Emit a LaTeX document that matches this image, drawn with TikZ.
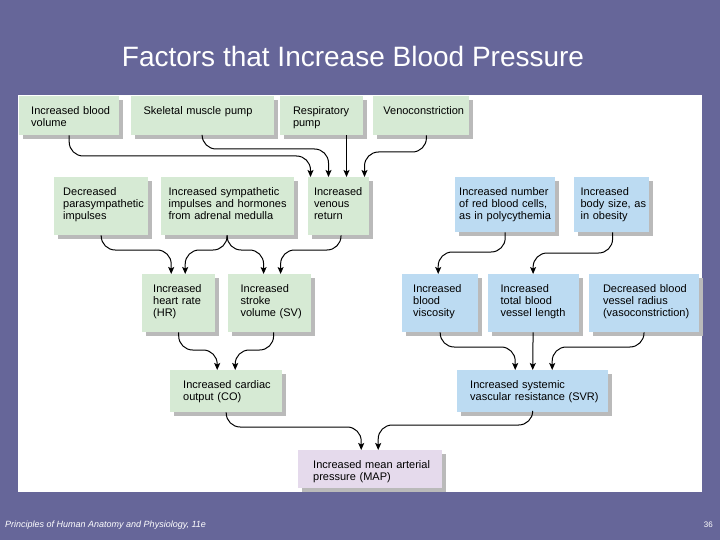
\documentclass[tikz,border=0pt]{standalone}
\usepackage{fontspec}
\setmainfont{Liberation Sans}
\usetikzlibrary{arrows.meta, positioning, shadows}
\definecolor{slidebg}{RGB}{102,102,153}
\definecolor{boxgreen}{RGB}{214,234,212}
\definecolor{boxblue}{RGB}{188,219,242}
\definecolor{boxpurple}{RGB}{229,218,236}

\begin{document}
\begin{tikzpicture}[
    x=1pt, y=-1pt,
    box/.style={rectangle, anchor=north west, inner sep=0pt, align=left, text height=18pt,
        font=\fontsize{11}{12}\selectfont,
        drop shadow={shadow xshift=4pt, shadow yshift=-4pt, fill=black!27, opacity=1}},
    sz/.style n args={3}{text width=#1, text depth=#2, execute at begin node={\leftskip=#3}},
    greenbox/.style={box, fill=boxgreen},
    bluebox/.style={box, fill=boxblue},
    purplebox/.style={box, fill=boxpurple},
    arr/.style={-{Stealth[length=7pt, width=6pt, inset=1.5pt]}, line width=1pt, rounded corners=14pt}
]
% slide background
\fill[slidebg] (0,0) rectangle (720,540);
\fill[white] (18,95) rectangle (702,492);

\node[font=\fontsize{28}{32}\selectfont, text=white, anchor=base] (title) at (353,67) {Factors that Increase Blood Pressure};

% top row
\node[greenbox, sz={100pt}{21pt}{12pt}] (bvol) at (19,96) {Increased blood\\volume};
\node[greenbox, sz={143pt}{21pt}{13pt}, right=11pt of bvol] (muscle) {Skeletal muscle pump};
\node[greenbox, sz={83pt}{21pt}{13pt}, right=6pt of muscle] (resp) {Respiratory\\pump};
\node[greenbox, sz={96pt}{21pt}{10pt}, right=10pt of resp] (veno) {Venoconstriction};

% second row
\node[greenbox, sz={94pt}{40pt}{9pt}] (parasym) at (54,177) {Decreased\\parasympathetic\\impulses};
\node[greenbox, sz={133pt}{40pt}{8pt}, right=12pt of parasym] (sympa) {Increased sympathetic\\impulses and hormones\\from adrenal medulla};
\node[greenbox, sz={61pt}{40pt}{6pt}, right=14pt of sympa] (vreturn) {Increased\\venous\\return};
\node[bluebox, sz={100pt}{37pt}{4pt}] (rbc) at (455,177) {Increased number\\of red blood cells,\\as in polycythemia};
\node[bluebox, sz={75pt}{37pt}{7pt}, right=18pt of rbc] (bodysize) {Increased\\body size, as\\in obesity};

% third row
\node[greenbox, sz={73pt}{40pt}{11pt}] (hrate) at (142,274) {Increased\\heart rate\\(HR)};
\node[greenbox, sz={83pt}{40pt}{13pt}, right=12pt of hrate] (stroke) {Increased\\stroke\\volume (SV)};
\node[bluebox, sz={76pt}{40pt}{11pt}] (viscos) at (402,274) {Increased\\blood\\viscosity};
\node[bluebox, sz={91pt}{40pt}{13pt}, right=9pt of viscos] (vlength) {Increased\\total blood\\vessel length};
\node[bluebox, sz={110pt}{40pt}{14pt}, right=10pt of vlength] (vradius) {Decreased blood\\vessel radius\\(vasoconstriction)};

% fourth row
\node[greenbox, sz={112pt}{24pt}{13pt}] (cardiac) at (170,370) {Increased cardiac\\output (CO)};
\node[bluebox, sz={151pt}{24pt}{13pt}] (svr) at (457,370) {Increased systemic\\vascular resistance (SVR)};

\node[purplebox, sz={144pt}{20pt}{15pt}] (map) at (298,450) {Increased mean arterial\\pressure (MAP)};

% into venous return
\draw[arr] (bvol.south) |- ([xshift=-28pt, yshift=21pt]vreturn.north) -- ([xshift=-28pt]vreturn.north);
\draw[arr] (muscle.south) |- ([xshift=-10pt, yshift=28pt]vreturn.north) -- ([xshift=-10pt]vreturn.north);
\draw[arr] ([xshift=25pt]resp.south) -- ([xshift=8pt]vreturn.north);
\draw[arr] ([xshift=5pt]veno.south) |- ([xshift=26pt, yshift=25pt]vreturn.north) -- ([xshift=26pt]vreturn.north);

% into heart rate and stroke volume
\draw[arr] (parasym.south) |- ([xshift=-7.5pt, yshift=24pt]hrate.north) -- ([xshift=-7.5pt]hrate.north);
\draw[arr] (sympa.south) |- ([xshift=6.5pt, yshift=24pt]hrate.north) -- ([xshift=6.5pt]hrate.north);
\draw[arr] (sympa.south) |- ([xshift=-5.5pt, yshift=24pt]stroke.north) -- ([xshift=-5.5pt]stroke.north);
\draw[arr] ([xshift=2.5pt]vreturn.south) |- ([xshift=11.5pt, yshift=24pt]stroke.north) -- ([xshift=11.5pt]stroke.north);

% into viscosity and vessel length
\draw[arr] (rbc.south) |- ([xshift=-2pt, yshift=22pt]viscos.north) -- ([xshift=-2pt]viscos.north);
\draw[arr] ([xshift=1.5pt]bodysize.south) |- ([yshift=21pt]vlength.north) -- (vlength.north);

% into cardiac output and SVR
\draw[arr] (hrate.south) |- ([xshift=-9pt, yshift=20pt]cardiac.north) -- ([xshift=-9pt]cardiac.north);
\draw[arr] ([xshift=4.5pt]stroke.south) |- ([xshift=9pt, yshift=20pt]cardiac.north) -- ([xshift=9pt]cardiac.north);
\draw[arr] (viscos.south) |- ([xshift=-17.5pt, yshift=23pt]svr.north) -- ([xshift=-17.5pt]svr.north);
\draw[arr] (vlength.south) -- (svr.north);
\draw[arr] (vradius.south) |- ([xshift=19.5pt, yshift=23pt]svr.north) -- ([xshift=19.5pt]svr.north);

% into MAP
\draw[arr] (cardiac.south) |- ([xshift=-9pt, yshift=23pt]map.north) -- ([xshift=-9pt]map.north);
\draw[arr] (svr.south) |- ([xshift=8pt, yshift=25pt]map.north) -- ([xshift=8pt]map.north);

% footer
\node[font=\fontsize{9}{10}\selectfont\itshape, text=white, anchor=base west, inner sep=0pt] (source) at (5,527) {Principles of Human Anatomy and Physiology, 11e};
\node[font=\fontsize{8}{10}\selectfont, text=white, anchor=base east, inner sep=0pt] (pagenum) at (713,527) {36};
\end{tikzpicture}
\end{document}
